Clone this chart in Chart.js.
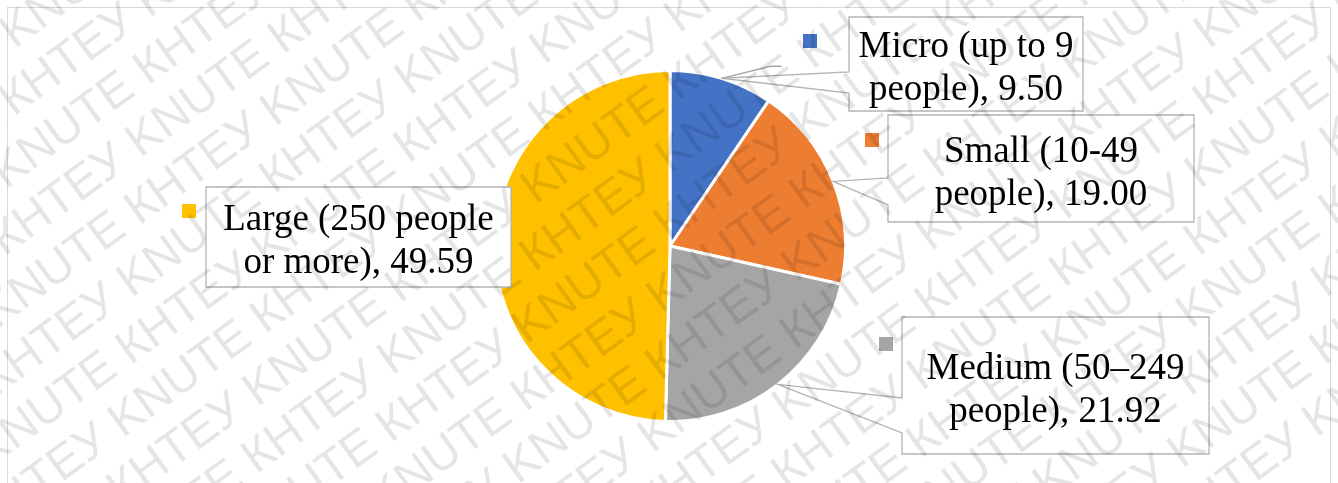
<!DOCTYPE html>
<html><head><meta charset="utf-8">
<script src="https://cdn.jsdelivr.net/npm/chart.js@4.4.0/dist/chart.umd.min.js"></script>
<style>html,body{margin:0;padding:0;background:#fff;}#wrap{width:1338px;height:483px;position:relative;}</style>
</head><body><div id="wrap"><canvas id="c" width="1338" height="483"></canvas></div>
<script>
// ---- data ----
const categories = ["Micro (up to 9 people)", "Small (10-49 people)", "Medium (50\u2013249 people)", "Large (250 people or more)"];
const values = [9.50, 19.00, 21.92, 49.59];
const colors = ["#4472C4", "#ED7D31", "#A5A5A5", "#FFC000"];
const watermarkWords = ["\u041A\u041D\u0422\u0415\u0423", "KNUTE"];

// ---- label layout (annotation boxes) ----
const labelBoxes = [
  {x: 849, y: 17, w: 234, h: 94, key: [803, 34], notch: [72, 93], extra: [[49, -12], [60, -12]]},
  {x: 888, y: 115, w: 306, h: 107, key: [865, 133], notch: [178, 205]},
  {x: 902, y: 317, w: 307, h: 137, key: [879, 337], notch: [398, 433]},
  {x: 206, y: 187, w: 305, h: 100, key: [182, 204]}
];

const LABEL_FONT = '37px "Liberation Serif", "Times New Roman", serif';

function wrapText(ctx, text, maxW) {
  const words = text.split(' ');
  const lines = [];
  let cur = '';
  for (const w of words) {
    const t = cur ? cur + ' ' + w : w;
    if (cur && ctx.measureText(t).width > maxW) { lines.push(cur); cur = w; }
    else cur = t;
  }
  if (cur) lines.push(cur);
  return lines;
}

const framePlugin = {
  id: 'frame',
  beforeDraw(chart) {
    const ctx = chart.ctx;
    ctx.save();
    ctx.fillStyle = '#ffffff';
    ctx.fillRect(0, 0, chart.width, chart.height);
    ctx.strokeStyle = '#d9d9d9';
    ctx.lineWidth = 1;
    ctx.strokeRect(7.5, 7.5, 1323, 520);
    ctx.restore();
  }
};

const calloutPlugin = {
  id: 'callouts',
  afterDatasetsDraw(chart, args, opts) {
    const ctx = chart.ctx;
    const meta = chart.getDatasetMeta(0);
    const ds = chart.data.datasets[0];
    meta.data.forEach((arc, i) => {
      const b = opts.boxes[i];
      if (!b) return;
      const mid = (arc.startAngle + arc.endAngle) / 2;
      const tx = arc.x + Math.cos(mid) * arc.outerRadius;
      const ty = arc.y + Math.sin(mid) * arc.outerRadius;
      ctx.save();
      ctx.lineWidth = 1.3;
      ctx.strokeStyle = '#b4b4b4';
      ctx.fillStyle = '#ffffff';
      ctx.beginPath();
      ctx.moveTo(b.x, b.y);
      ctx.lineTo(b.x + b.w, b.y);
      ctx.lineTo(b.x + b.w, b.y + b.h);
      ctx.lineTo(b.x, b.y + b.h);
      if (b.notch) {
        ctx.lineTo(b.x, b.notch[1]);
        ctx.lineTo(tx, ty);
        ctx.lineTo(b.x, b.notch[0]);
      }
      ctx.closePath();
      ctx.fill();
      ctx.stroke();
      if (b.extra) {
        ctx.strokeStyle = '#a6a6a6';
        ctx.beginPath();
        ctx.moveTo(tx, ty);
        b.extra.forEach(p => ctx.lineTo(tx + p[0], ty + p[1]));
        ctx.stroke();
      }
      // legend key
      ctx.fillStyle = ds.backgroundColor[i];
      ctx.fillRect(b.key[0], b.key[1], 14, 14);
      // text
      ctx.font = LABEL_FONT;
      ctx.fillStyle = '#000000';
      ctx.textAlign = 'center';
      ctx.textBaseline = 'alphabetic';
      const txt = chart.data.labels[i] + ', ' + ds.data[i].toFixed(2);
      const lines = wrapText(ctx, txt, b.w - 10);
      const cx = b.x + b.w / 2;
      const cy = b.y + b.h / 2 + 14.5;
      const lh = 43;
      const y0 = cy - (lines.length - 1) * lh / 2;
      lines.forEach((ln, k) => ctx.fillText(ln, cx, y0 + k * lh));
      ctx.restore();
    });
  }
};

const watermarkPlugin = {
  id: 'watermark',
  afterDraw(chart, args, opts) {
    const ctx = chart.ctx;
    ctx.save();
    ctx.font = '48px "Liberation Sans", Arial, sans-serif';
    ctx.fillStyle = 'rgba(0,0,0,0.10)';
    ctx.translate(chart.width / 2, chart.height / 2);
    ctx.rotate(-36 * Math.PI / 180);
    let unit = opts.words.join(' ') + ' ';
    let s = '';
    for (let k = 0; k < 10; k++) s += unit;
    const period = ctx.measureText(unit).width;
    const w = ctx.measureText(s).width;
    for (let r = -10; r <= 10; r++) {
      const off = ((r * 0.37) % 1) * period;
      ctx.fillText(s, -w / 2 + off, r * 54);
    }
    ctx.restore();
  }
};

new Chart(document.getElementById('c'), {
  type: 'pie',
  data: {
    labels: categories,
    datasets: [{
      data: values,
      backgroundColor: colors,
      borderColor: '#ffffff',
      borderWidth: 3
    }]
  },
  options: {
    responsive: false,
    animation: false,
    layout: {padding: {top: 69, bottom: 60, left: 2, right: 0}},
    plugins: {
      legend: {display: false},
      tooltip: {enabled: false},
      callouts: {boxes: labelBoxes},
      watermark: {words: watermarkWords}
    }
  },
  plugins: [framePlugin, calloutPlugin, watermarkPlugin]
});
</script>
</body></html>
